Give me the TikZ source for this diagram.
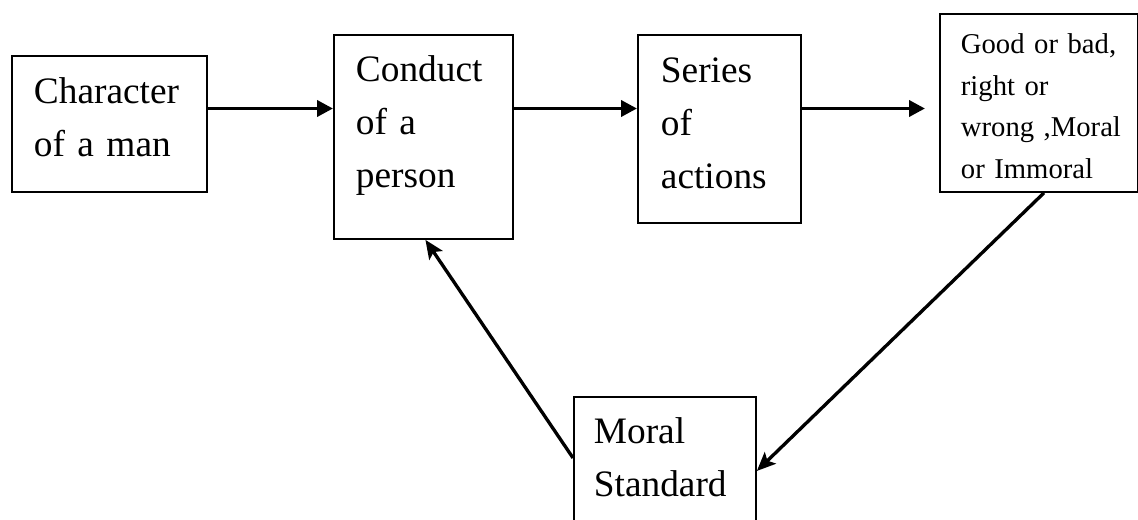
\documentclass[tikz,border=0pt]{standalone}
\usepackage{fontspec}
\setmainfont{Liberation Serif}[WordSpace=0.85]
\usetikzlibrary{arrows.meta,positioning}

\begin{document}
\begin{tikzpicture}[
  x=0.75pt, y=-0.75pt,
  >={Triangle[length=12pt,width=12pt]},
  box/.style={draw, line width=1.4pt, inner ysep=0pt, anchor=north west, align=left,
    font=\fontsize{28}{39.4}\selectfont},
  small/.style={font=\fontsize{21.5}{31.1}\selectfont},
  link/.style={->, line width=2.8pt},
  back/.style={-{Stealth[length=14pt,width=12pt,inset=3pt]}, line width=2.5pt}]

\useasboundingbox (0,0) rectangle (1138,519);

\node[box, inner xsep=16.5pt, text width=113.25pt, text height=36pt, text depth=66pt]
  (character) at (11,55) {Character\\of a man};
\node[box, inner xsep=16.5pt, text width=101.25pt, text height=35.25pt, text depth=117.75pt]
  (conduct) at (333,34) {Conduct\\of a\\person};
\node[box, inner xsep=17.25pt, text width=87.75pt, text height=36pt, text depth=105pt]
  (series) at (637,34) {Series\\of\\actions};
\node[box, small, inner xsep=15.75pt, text width=117pt, text height=30pt, text depth=103.5pt]
  (judgement) at (939,13) {Good or bad,\\right or\\wrong~,Moral\\or Immoral};
\node[box, inner xsep=15pt, text width=106.5pt, text height=35.25pt, text depth=75.75pt]
  (standard) at (573,396) {Moral\\Standard};

% Flèches horizontales sur une même ligne
\coordinate (flow) at (0,108.5);
\draw[link] (character.east |- flow) -- (conduct.west |- flow);
\draw[link] (conduct.east |- flow) -- (series.west |- flow);
\draw[link, shorten >=10.5pt] (series.east |- flow) -- (judgement.west |- flow);

% Boucle de retour
\draw[back] ([xshift=3.75pt]judgement.south) -- (standard.east);
\draw[back] ([yshift=9.75pt]standard.west) -- ([xshift=1.5pt]conduct.south);

\end{tikzpicture}
\end{document}
